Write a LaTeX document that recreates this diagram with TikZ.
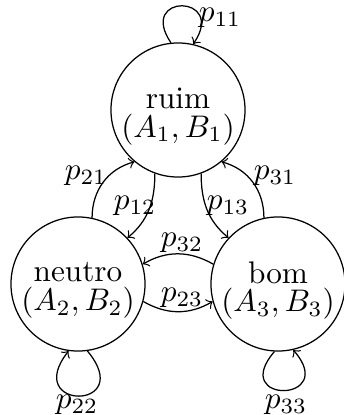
\documentclass[tikz,border=0pt]{standalone}
\begin{document}
\begin{tikzpicture}[x=0.32pt,y=0.32pt,
  state/.style={draw,circle,minimum size=42.9pt,inner sep=0pt},
  stext/.style={align=center,inner sep=0pt},
  lab/.style={inner sep=0pt},
  tr/.style={->,>=to}]
\useasboundingbox (0,0) rectangle (344,415);
\node[state] (ruim) at (178,305) {};
\node[state] (neutro) at (78,131) {};
\node[state] (bom) at (278,131) {};
\node[stext] (ruimt) at (178,298.5) {ruim\\[-2.9pt]$(A_1,B_1)$};
\node[stext] (neutrot) at (78,124.5) {neutro\\[-2.9pt]$(A_2,B_2)$};
\node[stext] (bomt) at (278,124.5) {bom\\[-2.9pt]$(A_3,B_3)$};
% loops
\draw[tr] (ruim.96) .. controls +(-34,50) and +(34,50) .. (ruim.77);
\draw[tr] (neutro.-82) .. controls +(50,-60) and +(-47,-60) .. (neutro.-98);
\draw[tr] (bom.-93) .. controls +(-46,-53) and +(46,-53) .. (bom.-77);
% edges
\draw[tr] (neutro.78) to[out=90,in=195] (ruim.230);
\draw[tr] (ruim.250) to[out=270,in=40] (neutro.43);
\draw[tr] (bom.102) to[out=90,in=345] (ruim.310);
\draw[tr] (ruim.290) to[out=270,in=140] (bom.137);
\draw[tr] (bom.163) to[out=150,in=30] (neutro.17);
\draw[tr] (neutro.-15) to[out=-30,in=210] (bom.195);
% labels
\node[lab] (l11) at (220,397) {$p_{11}$};
\node[lab] (l21) at (86,239) {$p_{21}$};
\node[lab] (l12) at (135,209) {$p_{12}$};
\node[lab] (l13) at (228,209) {$p_{13}$};
\node[lab] (l31) at (275,239) {$p_{31}$};
\node[lab] (l32) at (182,172) {$p_{32}$};
\node[lab] (l23) at (182,117) {$p_{23}$};
\node[lab] (l22) at (77,10) {$p_{22}$};
\node[lab] (l33) at (286,10) {$p_{33}$};
\end{tikzpicture}
\end{document}
